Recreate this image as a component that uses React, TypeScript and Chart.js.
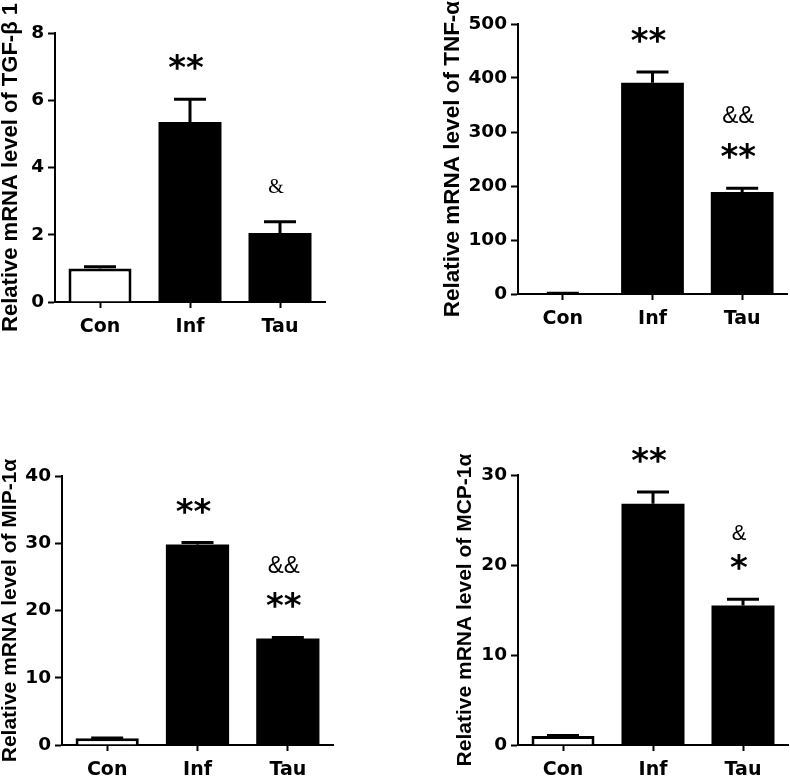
import React, { useEffect, useRef } from "react";
import { Chart, registerables } from "chart.js";

Chart.register(...registerables);

// ---------- data ----------
const categories = ["Con", "Inf", "Tau"];

const tgfValues = [1.0, 5.35, 2.05];
const tgfErrors = [0.05, 0.68, 0.34];
const tgfMarks = [[], ["**"], ["&"]];

const tnfValues = [1, 391, 189];
const tnfErrors = [0.5, 20, 7];
const tnfMarks = [[], ["**"], ["**", "&&"]];

const mipValues = [1.0, 29.8, 15.85];
const mipErrors = [0.05, 0.3, 0.15];
const mipMarks = [[], ["**"], ["**", "&&"]];

const mcpValues = [1.0, 26.8, 15.5];
const mcpErrors = [0.05, 1.3, 0.7];
const mcpMarks = [[], ["**"], ["*", "&"]];

// ---------- plugin: error bars + significance marks ----------
const errorPlugin = {
  id: "errorMarks",
  afterDatasetsDraw(chart: any, _args: any, opts: any) {
    const ctx = chart.ctx;
    const y = chart.scales.y;
    const meta = chart.getDatasetMeta(0);
    const values = chart.data.datasets[0].data as number[];
    ctx.save();
    meta.data.forEach((bar: any, i: number) => {
      const x = bar.x;
      const top = y.getPixelForValue(values[i] + opts.errors[i]);
      ctx.strokeStyle = "#000";
      ctx.lineWidth = 3;
      ctx.beginPath();
      ctx.moveTo(x, bar.y);
      ctx.lineTo(x, top);
      ctx.moveTo(x - opts.capHalf, top);
      ctx.lineTo(x + opts.capHalf, top);
      ctx.stroke();

      let cursor = top - opts.firstGap;
      (opts.marks[i] || []).forEach((txt: string) => {
        const star = txt.includes("*");
        ctx.font = star
          ? `bold ${opts.starSize}px "DejaVu Sans", sans-serif`
          : `${opts.ampSize}px ${opts.ampFamily}`;
        ctx.fillStyle = "#000";
        ctx.textAlign = "center";
        ctx.textBaseline = "alphabetic";
        const m = ctx.measureText(txt);
        const baseline = cursor - m.actualBoundingBoxDescent;
        ctx.fillText(txt, x + opts.shift, baseline);
        cursor = baseline - m.actualBoundingBoxAscent - opts.stackGap;
      });
    });
    ctx.restore();
  },
};

type PanelProps = {
  left: number;
  top: number;
  width: number;
  height: number;
  values: number[];
  errors: number[];
  marks: string[][];
  yMax: number;
  yStep: number;
  title: string;
  titleSize: number;
  pad: { left: number; top: number; right: number };
  yAxisWidth: number;
  chartBottom: number;
  ampSize: number;
  ampFamily: string;
  stackGap: number;
};

function Panel(p: PanelProps) {
  const ref = useRef<HTMLCanvasElement>(null);
  useEffect(() => {
    if (!ref.current) return;
    const chart = new Chart(ref.current, {
      type: "bar",
      data: {
        labels: categories,
        datasets: [
          {
            data: p.values,
            backgroundColor: ["#ffffff", "#000000", "#000000"],
            borderColor: "#000000",
            borderWidth: [3, 0, 0],
            borderSkipped: "start",
            barPercentage: 0.7,
            categoryPercentage: 1,
          },
        ],
      },
      options: {
        responsive: false,
        maintainAspectRatio: false,
        animation: false,
        layout: { padding: { left: p.pad.left, top: p.pad.top, right: p.pad.right, bottom: 0 } },
        plugins: {
          legend: { display: false },
          tooltip: { enabled: false },
          errorMarks: {
            errors: p.errors,
            marks: p.marks,
            capHalf: 16,
            firstGap: 29,
            stackGap: p.stackGap,
            starSize: 34,
            ampSize: p.ampSize,
            ampFamily: p.ampFamily,
            shift: -4,
          },
        } as any,
        scales: {
          x: {
            offset: true,
            grid: {
              offset: false,
              drawOnChartArea: false,
              drawTicks: true,
              tickLength: 6,
              tickWidth: 2,
              tickColor: "#000",
            },
            border: { display: true, color: "#000", width: 2 },
            ticks: {
              color: "#000",
              padding: 8,
              font: { family: '"DejaVu Sans", sans-serif', size: 19, weight: "bold" },
            },
            afterFit: (s: any) => {
              s.height = p.height - p.chartBottom;
            },
          },
          y: {
            min: 0,
            max: p.yMax,
            ticks: {
              stepSize: p.yStep,
              color: "#000",
              padding: 4,
              font: { family: '"DejaVu Sans", sans-serif', size: 18.5, weight: "bold" },
            },
            grid: {
              drawOnChartArea: false,
              drawTicks: true,
              tickLength: 7,
              tickWidth: 2,
              tickColor: "#000",
            },
            border: { display: true, color: "#000", width: 2 },
            title: {
              display: true,
              text: p.title,
              color: "#000",
              padding: 0,
              font: {
                family: '"Liberation Sans", Arial, sans-serif',
                size: p.titleSize,
                weight: "bold",
                lineHeight: 1,
              },
            },
            afterFit: (s: any) => {
              s.width = p.yAxisWidth;
            },
          },
        },
      } as any,
      plugins: [errorPlugin],
    });
    return () => chart.destroy();
  }, []);
  return (
    <canvas
      ref={ref}
      width={p.width}
      height={p.height}
      style={{ position: "absolute", left: p.left, top: p.top, width: p.width, height: p.height }}
    />
  );
}

export default function App() {
  return (
    <div style={{ position: "absolute", left: 0, top: 0, width: 790, height: 776, background: "#fff" }}>
      <Panel
        left={0}
        top={0}
        width={395}
        height={388}
        values={tgfValues}
        errors={tgfErrors}
        marks={tgfMarks}
        yMax={8}
        yStep={2}
        title="Relative mRNA level of TGF-β 1"
        titleSize={22}
        pad={{ left: 0, top: 33, right: 70 }}
        yAxisWidth={55}
        chartBottom={302}
        ampSize={20}
        ampFamily={'"Liberation Serif", serif'}
        stackGap={18}
      />
      <Panel
        left={395}
        top={0}
        width={395}
        height={388}
        values={tnfValues}
        errors={tnfErrors}
        marks={tnfMarks}
        yMax={500}
        yStep={100}
        title="Relative mRNA level of TNF-α"
        titleSize={22.5}
        pad={{ left: 47, top: 24, right: 3 }}
        yAxisWidth={76}
        chartBottom={294}
        ampSize={24}
        ampFamily={'"Liberation Sans", Arial, sans-serif'}
        stackGap={20}
      />
      <Panel
        left={0}
        top={388}
        width={395}
        height={388}
        values={mipValues}
        errors={mipErrors}
        marks={mipMarks}
        yMax={40}
        yStep={10}
        title="Relative mRNA level of MIP-1α"
        titleSize={21}
        pad={{ left: 0, top: 88, right: 62 }}
        yAxisWidth={62}
        chartBottom={357}
        ampSize={24}
        ampFamily={'"Liberation Sans", Arial, sans-serif'}
        stackGap={19}
      />
      <Panel
        left={395}
        top={388}
        width={395}
        height={388}
        values={mcpValues}
        errors={mcpErrors}
        marks={mcpMarks}
        yMax={30}
        yStep={10}
        title="Relative mRNA level of MCP-1α"
        titleSize={21}
        pad={{ left: 60, top: 87, right: 2 }}
        yAxisWidth={63}
        chartBottom={357}
        ampSize={22}
        ampFamily={'"Liberation Sans", Arial, sans-serif'}
        stackGap={14}
      />
    </div>
  );
}
